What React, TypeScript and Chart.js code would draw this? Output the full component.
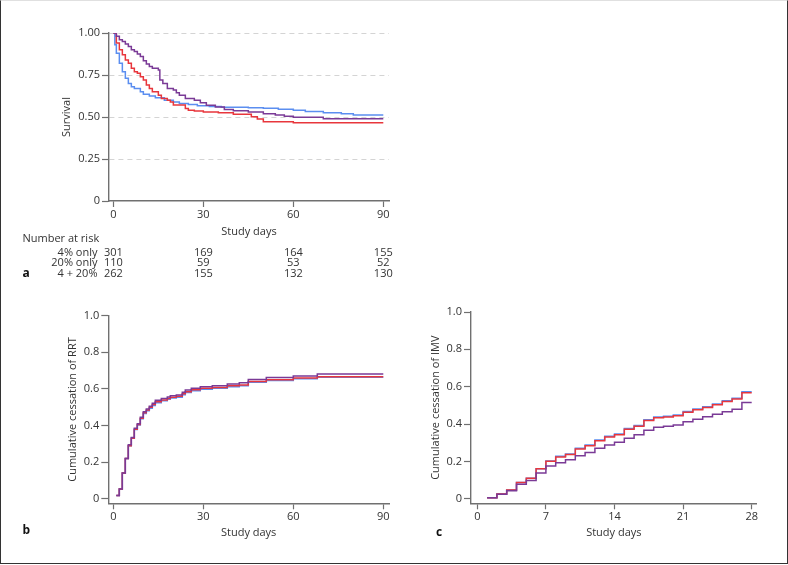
import React, { useEffect, useRef } from "react";
import { Chart, registerables } from "chart.js";
Chart.register(...registerables);

const FONT_FAMILY = '"Open Sans", "Noto Sans", sans-serif';
const TEXT = "#333333";
const AXIS = "#707070";
const GRID = "#d4d4d4";
const BLUE = "#5b8ef0";
const RED = "#e8363c";
const PURPLE = "#7a3a96";

// ---------- Panel a: survival (Kaplan-Meier) ----------
const survBlueDays = [0, 0.5, 1, 2, 3, 4, 5, 6, 7, 9, 10, 12, 14, 17, 20, 22, 25, 28, 32, 36, 45, 50, 55, 60, 64, 70, 76, 80, 90];
const survBlue = [1, 0.93, 0.88, 0.82, 0.77, 0.73, 0.7, 0.68, 0.67, 0.65, 0.635, 0.625, 0.615, 0.6, 0.59, 0.58, 0.575, 0.567, 0.562, 0.558, 0.555, 0.552, 0.546, 0.54, 0.532, 0.525, 0.52, 0.512, 0.512];

const survRedDays = [0, 1, 2, 3, 4, 5, 6, 7, 8, 9, 10, 11, 12, 13, 15, 16, 18, 19, 20, 24, 25, 27, 30, 35, 40, 46, 48, 50, 60, 90];
const survRed = [1, 0.94, 0.9, 0.87, 0.84, 0.82, 0.79, 0.77, 0.76, 0.74, 0.72, 0.69, 0.67, 0.65, 0.63, 0.61, 0.6, 0.59, 0.571, 0.55, 0.54, 0.536, 0.53, 0.526, 0.516, 0.502, 0.488, 0.472, 0.466, 0.466];

const survPurpleDays = [0, 1, 2, 3, 4, 5, 6, 7, 8, 9, 10, 11, 12, 13, 15, 15.5, 16.5, 18, 20, 21, 22, 24, 27, 29, 31, 34, 37, 40, 45, 50, 54, 57, 60, 70, 90];
const survPurple = [1, 0.98, 0.96, 0.95, 0.935, 0.92, 0.9, 0.89, 0.875, 0.86, 0.835, 0.815, 0.8, 0.79, 0.78, 0.72, 0.7, 0.67, 0.66, 0.645, 0.63, 0.61, 0.6, 0.585, 0.57, 0.56, 0.545, 0.537, 0.53, 0.52, 0.512, 0.505, 0.498, 0.49, 0.49];

const survTicksX = [0, 30, 60, 90];
const survTicksY = [0, 0.25, 0.5, 0.75, 1];

const riskTimes = [0, 30, 60, 90];
const riskGroups = ["4% only", "20% only", "4 + 20%"];
const risk4Only = [301, 169, 164, 155];
const risk20Only = [110, 59, 53, 52];
const risk4Plus20 = [262, 155, 132, 130];

// ---------- Panel b: cumulative cessation of RRT ----------
const rrtDays = [1, 2, 3, 4, 5, 6, 7, 8, 9, 10, 11, 12, 13, 14, 16, 18, 19, 21, 23, 24, 26, 29, 33, 38, 42, 45, 51, 60, 68, 90];
const rrtRed = [0.018, 0.053, 0.14, 0.22, 0.29, 0.33, 0.38, 0.405, 0.44, 0.47, 0.485, 0.5, 0.515, 0.53, 0.54, 0.548, 0.555, 0.56, 0.573, 0.585, 0.595, 0.603, 0.608, 0.617, 0.622, 0.64, 0.65, 0.66, 0.667, 0.667];
const rrtBlue = [0.018, 0.053, 0.14, 0.22, 0.29, 0.33, 0.378, 0.403, 0.437, 0.466, 0.48, 0.495, 0.51, 0.525, 0.535, 0.543, 0.55, 0.555, 0.568, 0.58, 0.59, 0.598, 0.603, 0.612, 0.617, 0.636, 0.646, 0.656, 0.664, 0.664];
const rrtPurple = [0.018, 0.053, 0.14, 0.22, 0.295, 0.335, 0.385, 0.41, 0.445, 0.475, 0.49, 0.505, 0.522, 0.538, 0.548, 0.556, 0.563, 0.567, 0.582, 0.594, 0.604, 0.612, 0.617, 0.627, 0.633, 0.652, 0.662, 0.67, 0.681, 0.681];
const rrtTicksX = [0, 30, 60, 90];

// ---------- Panel c: cumulative cessation of IMV ----------
const imvDays = [1, 2, 3, 4, 5, 6, 7, 8, 9, 10, 11, 12, 13, 14, 15, 16, 17, 18, 19, 20, 21, 22, 23, 24, 25, 26, 27, 28];
const imvRed = [0.005, 0.025, 0.047, 0.087, 0.11, 0.16, 0.2, 0.224, 0.237, 0.266, 0.284, 0.31, 0.33, 0.342, 0.372, 0.388, 0.419, 0.434, 0.437, 0.444, 0.463, 0.477, 0.488, 0.503, 0.521, 0.534, 0.567, 0.567];
const imvBlue = [0.005, 0.025, 0.047, 0.087, 0.11, 0.16, 0.202, 0.227, 0.24, 0.27, 0.288, 0.314, 0.334, 0.346, 0.376, 0.392, 0.423, 0.438, 0.441, 0.448, 0.467, 0.481, 0.492, 0.507, 0.525, 0.538, 0.573, 0.573];
const imvPurple = [0.005, 0.024, 0.042, 0.078, 0.098, 0.138, 0.175, 0.193, 0.208, 0.23, 0.248, 0.27, 0.288, 0.302, 0.324, 0.342, 0.366, 0.383, 0.388, 0.395, 0.412, 0.426, 0.439, 0.452, 0.466, 0.479, 0.515, 0.515];
const imvTicksX = [0, 7, 14, 21, 28];

const cumTicksY = [0, 0.2, 0.4, 0.6, 0.8, 1];

function stepSeries(label: string, days: number[], values: number[], color: string) {
  return {
    label,
    data: days.map((d, i) => ({ x: d, y: values[i] })),
    borderColor: color,
    backgroundColor: color,
    borderWidth: 1.5,
    stepped: "before" as const,
    pointRadius: 0,
    fill: false,
  };
}

const font = (size = 11, weight: any = "normal") => ({ family: FONT_FAMILY, size, weight });

function xAxis(min: number, max: number, tickValues: number[], height: number) {
  return {
    type: "linear" as const,
    min,
    max,
    afterBuildTicks: (s: any) => {
      s.ticks = tickValues.map((v) => ({ value: v }));
    },
    afterFit: (s: any) => {
      s.height = height;
    },
    grid: { drawOnChartArea: false, drawTicks: true, tickLength: 6, tickColor: AXIS, tickWidth: 1.2 },
    border: { display: true, color: AXIS, width: 1.4 },
    ticks: { color: TEXT, font: font(11), padding: 1, maxRotation: 0, autoSkip: false, callback: (v: any) => String(v) },
    title: { display: true, text: "Study days", color: TEXT, font: font(11), padding: 0 },
  };
}

function yAxis(
  min: number,
  max: number,
  tickValues: number[],
  width: number,
  title: string,
  fmt: (v: number) => string,
  gridOn: boolean
) {
  return {
    type: "linear" as const,
    min,
    max,
    afterBuildTicks: (s: any) => {
      s.ticks = tickValues.map((v) => ({ value: v }));
    },
    afterFit: (s: any) => {
      s.width = width;
    },
    grid: {
      drawOnChartArea: gridOn,
      color: (ctx: any) => (ctx.tick && ctx.tick.value === 0 ? "rgba(0,0,0,0)" : GRID),
      lineWidth: 1,
      drawTicks: true,
      tickLength: 7,
      tickColor: AXIS,
      tickWidth: 1.2,
    },
    border: { display: true, color: AXIS, width: 1.4, dash: [5, 4] },
    ticks: { color: TEXT, font: font(11), padding: 2, autoSkip: false, callback: (v: any) => fmt(Number(v)) },
    title: { display: true, text: title, color: TEXT, font: font(11), padding: 0 },
  };
}

function panelLabel(id: string, text: string, x: number, y: number) {
  return {
    id,
    afterDraw(chart: any) {
      const ctx = chart.ctx;
      ctx.save();
      ctx.fillStyle = "#111";
      ctx.font = `bold 12px ${FONT_FAMILY}`;
      ctx.textAlign = "left";
      ctx.textBaseline = "middle";
      ctx.fillText(text, x, y);
      ctx.restore();
    },
  };
}

const riskTablePlugin = {
  id: "riskTable",
  afterDraw(chart: any) {
    const ctx = chart.ctx;
    const xs = chart.scales.x;
    ctx.save();
    ctx.fillStyle = TEXT;
    ctx.font = `11px ${FONT_FAMILY}`;
    ctx.textBaseline = "middle";
    ctx.textAlign = "left";
    ctx.fillText("Number at risk", 22.5, 239);
    const rows = [risk4Only, risk20Only, risk4Plus20];
    rows.forEach((row, r) => {
      const y = 252.5 + r * 10.8;
      ctx.textAlign = "right";
      ctx.fillText(riskGroups[r], 97.5, y);
      ctx.textAlign = "center";
      row.forEach((n, i) => ctx.fillText(String(n), xs.getPixelForValue(riskTimes[i]), y));
    });
    ctx.restore();
  },
};

const common = {
  responsive: false,
  animation: false as const,
  devicePixelRatio: 1,
  plugins: { legend: { display: false }, tooltip: { enabled: false } },
  elements: { line: { tension: 0 } },
};

export default function App() {
  const refA = useRef<HTMLCanvasElement>(null);
  const refB = useRef<HTMLCanvasElement>(null);
  const refC = useRef<HTMLCanvasElement>(null);

  useEffect(() => {
    const charts: Chart[] = [];
    if (refA.current) {
      charts.push(
        new Chart(refA.current, {
          type: "line",
          data: {
            datasets: [
              stepSeries("4 + 20%", survPurpleDays, survPurple, PURPLE),
              stepSeries("20% only", survRedDays, survRed, RED),
              stepSeries("4% only", survBlueDays, survBlue, BLUE),
            ],
          },
          options: {
            ...common,
            layout: { padding: { left: 60, top: 33, right: 11, bottom: 61.7 } },
            scales: {
              x: xAxis(-1.45, 91.9, survTicksX, 37.3),
              y: yAxis(0, 1, survTicksY, 49, "Survival", (v) => (v === 0 ? "0" : v.toFixed(2)), true),
            },
          } as any,
          plugins: [riskTablePlugin, panelLabel("labelA", "a", 22.5, 274)],
        })
      );
    }
    if (refB.current) {
      charts.push(
        new Chart(refB.current, {
          type: "line",
          data: {
            datasets: [
              stepSeries("4 + 20%", rrtDays, rrtPurple, PURPLE),
              stepSeries("20% only", rrtDays, rrtRed, RED),
              stepSeries("4% only", rrtDays, rrtBlue, BLUE),
            ],
          },
          options: {
            ...common,
            layout: { padding: { left: 66, top: 15.7, right: 11, bottom: 25.4 } },
            scales: {
              x: xAxis(-1.667, 91.9, rrtTicksX, 36.3),
              y: yAxis(-0.025, 1, cumTicksY, 42.3, "Cumulative cessation of RRT", (v) => (v === 0 ? "0" : v.toFixed(1)), false),
            },
          } as any,
          plugins: [panelLabel("labelB", "b", 22.5, 231)],
        })
      );
    }
    if (refC.current) {
      charts.push(
        new Chart(refC.current, {
          type: "line",
          data: {
            datasets: [
              stepSeries("4 + 20%", imvDays, imvPurple, PURPLE),
              stepSeries("20% only", imvDays, imvRed, RED),
              stepSeries("4% only", imvDays, imvBlue, BLUE),
            ],
          },
          options: {
            ...common,
            layout: { padding: { left: 29.2, top: 12, right: 31.3, bottom: 25.4 } },
            scales: {
              x: xAxis(-0.643, 28.51, imvTicksX, 36.3),
              y: yAxis(-0.0246, 1, cumTicksY, 41.8, "Cumulative cessation of IMV", (v) => (v === 0 ? "0" : v.toFixed(1)), false),
            },
          } as any,
          plugins: [panelLabel("labelC", "c", 36, 233)],
        })
      );
    }
    return () => charts.forEach((c) => c.destroy());
  }, []);

  return (
    <div style={{ position: "fixed", left: 0, top: 0, width: 788, height: 565, background: "#fff", overflow: "hidden" }}>
      <canvas ref={refA} width={400} height={300} style={{ position: "absolute", left: 0, top: 0, width: 400, height: 300 }} />
      <canvas ref={refB} width={400} height={265} style={{ position: "absolute", left: 0, top: 300, width: 400, height: 265 }} />
      <canvas ref={refC} width={388} height={265} style={{ position: "absolute", left: 400, top: 300, width: 388, height: 265 }} />
      <div
        style={{
          position: "absolute",
          left: 0,
          top: 0,
          width: 788,
          height: 564,
          boxSizing: "border-box",
          borderLeft: "1px solid #333",
          borderRight: "1px solid #333",
          borderBottom: "1px solid #333",
          borderTop: "1px solid #e0e0e0",
          pointerEvents: "none",
        }}
      />
    </div>
  );
}
